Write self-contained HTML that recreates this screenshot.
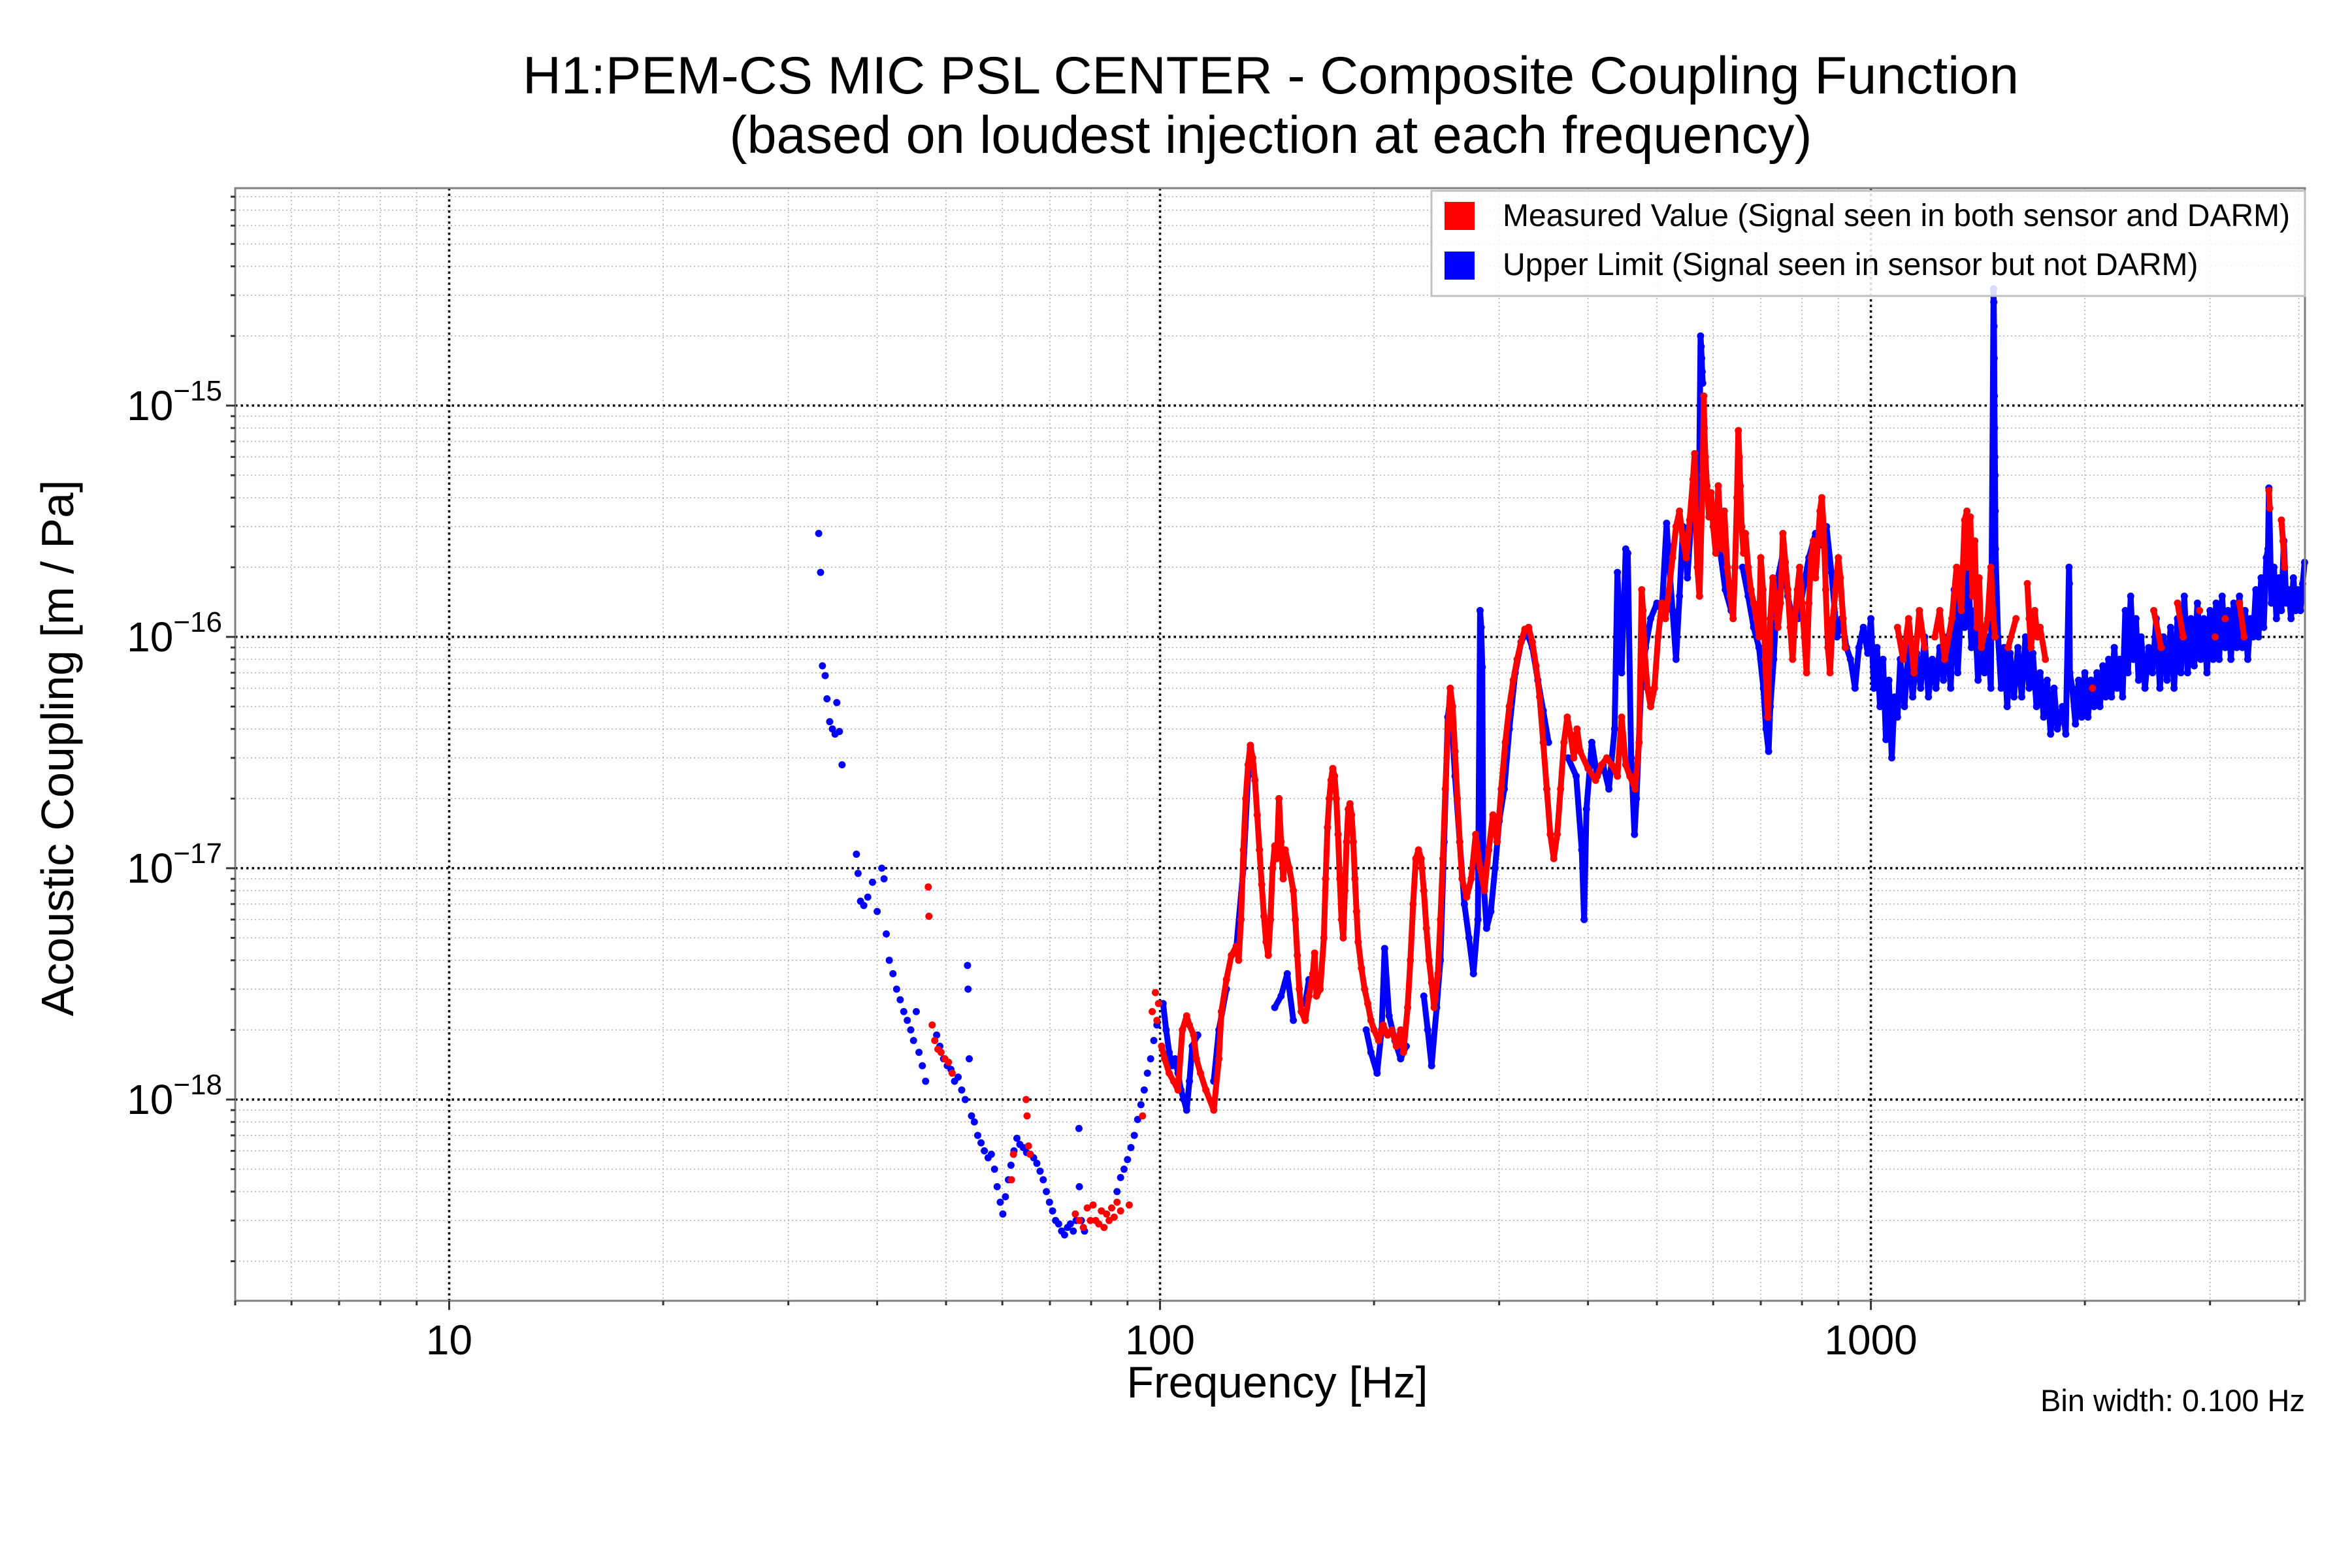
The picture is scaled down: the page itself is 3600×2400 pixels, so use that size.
<!DOCTYPE html>
<html><head><meta charset="utf-8">
<style>
html,body{margin:0;padding:0;background:#fff;}
svg{display:block;font-family:"Liberation Sans",Arial,sans-serif;}
</style></head>
<body>
<svg id="chart" width="3600" height="2400" viewBox="0 0 3600 2400" xmlns="http://www.w3.org/2000/svg">
<rect x="0" y="0" width="3600" height="2400" fill="#fff"/>
<g id="grid"></g>
<g id="marks"></g>
<rect x="360" y="288" width="3168" height="1703" fill="none" stroke="#808080" stroke-width="3"/>
<g id="ticks"></g>
<text x="1945" y="143" font-size="81" text-anchor="middle" textLength="2290" lengthAdjust="spacingAndGlyphs">H1:PEM-CS MIC PSL CENTER - Composite Coupling Function</text>
<text x="1945" y="234" font-size="81" text-anchor="middle">(based on loudest injection at each frequency)</text>
<text x="1955" y="2139" font-size="68" text-anchor="middle">Frequency [Hz]</text>
<text x="0" y="0" font-size="70" text-anchor="middle" transform="translate(112,1145) rotate(-90)">Acoustic Coupling [m / Pa]</text>
<text x="3528" y="2160" font-size="47" text-anchor="end">Bin width: 0.100 Hz</text>
<g>
<rect x="2191" y="292" width="1337" height="161" fill="#fff" fill-opacity="0.85" stroke="#c0c0c0" stroke-width="3"/>
<rect x="2211" y="309" width="46" height="43" fill="#ff0000"/>
<text x="2300" y="346" font-size="48">Measured Value (Signal seen in both sensor and DARM)</text>
<rect x="2211" y="385" width="46" height="43" fill="#0000ff"/>
<text x="2300" y="421" font-size="48">Upper Limit (Signal seen in sensor but not DARM)</text>
</g>
</svg>
<script>
const xTickValues = [10, 100, 1000];
const xTickLabels = ["10", "100", "1000"];
const yTickExponents = [-15, -16, -17, -18];
const yTickLabels = ["\u221215", "\u221216", "\u221217", "\u221218"];

const blueFreq = [33.1,33.3,33.5,33.8,34.0,34.3,34.6,34.9,35.1,35.4,35.7,
37.4,37.6,37.9,38.3,38.8,39.4,40.0,40.6,40.9,41.2,41.6,42.1,42.6,43.1,43.6,44.1,44.6,45.0,45.4,45.8,46.3,46.8,
48.5,49.0,49.6,50.2,50.8,51.4,52.0,52.6,53.2,53.6,53.7,53.9,54.3,54.8,55.4,56.0,56.6,57.3,57.9,58.5,59.0,59.6,60.1,60.6,61.2,61.7,62.3,62.9,63.5,64.2,64.9,65.7,66.4,67.1,67.8,68.5,69.2,69.9,70.6,71.3,72.0,72.7,73.4,74.1,74.8,75.5,76.2,76.9,77.0,77.5,78.3,
87,88,89,90,91,92,93,94,95,96,97,98,99,
101,102,103,104,105,106,107,108,109,110,111,113,
119,121,124,128,131,133,134,
145,148,151,154,160,162,
195,198,202,205,207,210,214,218,222,
235,238,241,245,248,251,254,256,260,264,268,272,276,280,282,283,284,285,288,292,296,300,305,310,316,322,328,334,340,346,352,
375,385,392,395,398,405,412,420,428,436,440,446,452,455,460,465,468,475,482,490,500,508,516,518,520,526,532,538,544,548,552,560,566,572,576,577,578,579,580,
600,612,624,636,660,672,684,696,706,712,718,722,730,740,752,764,776,790,806,818,836,850,866,880,896,910,924,936,950,962,976,990,
1000,1010,1020,1030,1040,1050,1060,1070,1080,1090,1100,1115,1130,1145,1160,1175,1190,1205,1220,1235,1250,1265,1280,1295,1310,1325,1340,1355,1370,1385,1400,1415,1430,1445,1460,1475,
1488,1489,1490,1491,1492,1493,1494,1495,1496,1497,
1510,1525,1540,1555,1570,1590,1610,1630,1650,1670,1690,1710,1730,1750,1770,1790,1810,1830,1860,1880,1900,1902,1905,1920,1940,1960,1980,2000,2020,2040,2060,2080,2100,2120,2140,2160,2180,2200,2220,2240,2260,2280,2300,2320,2340,2360,2380,2400,2430,2460,2490,2520,2550,2580,2610,2640,2670,2700,2730,2760,2790,2820,2850,2880,2910,2940,2970,3000,3030,3060,3090,3120,3150,3180,3210,3240,3270,3300,3330,3360,3390,3420,3450,3480,3510,3540,3570,3600,3620,3630,3660,3690,3720,3750,3780,3810,3840,3870,3900,3930,3960,3990,4020,4050,4075];
const blueVal = [2.8e-16,1.9e-16,7.5e-17,6.8e-17,5.4e-17,4.3e-17,4.0e-17,3.8e-17,5.2e-17,3.9e-17,2.8e-17,
1.15e-17,9.5e-18,7.2e-18,6.9e-18,7.5e-18,8.7e-18,6.5e-18,1.0e-17,9.0e-18,5.2e-18,4.0e-18,3.5e-18,3.0e-18,2.7e-18,2.4e-18,2.2e-18,2.0e-18,1.8e-18,2.4e-18,1.6e-18,1.4e-18,1.2e-18,
1.9e-18,1.7e-18,1.5e-18,1.4e-18,1.35e-18,1.2e-18,1.25e-18,1.1e-18,1.0e-18,3.8e-18,3.0e-18,1.5e-18,8.5e-19,8.0e-19,7.0e-19,6.5e-19,6.0e-19,5.6e-19,5.8e-19,5.0e-19,4.2e-19,3.6e-19,3.2e-19,3.8e-19,4.5e-19,5.2e-19,6.0e-19,6.8e-19,6.4e-19,6.2e-19,5.9e-19,5.8e-19,5.6e-19,5.3e-19,4.9e-19,4.5e-19,4.0e-19,3.6e-19,3.3e-19,3.0e-19,2.9e-19,2.7e-19,2.6e-19,2.8e-19,2.9e-19,2.7e-19,3.0e-19,7.5e-19,4.2e-19,3.0e-19,2.7e-19,
4.0e-19,4.6e-19,5.0e-19,5.5e-19,6.2e-19,7.0e-19,8.2e-19,9.5e-19,1.1e-18,1.3e-18,1.5e-18,1.8e-18,2.1e-18,
2.6e-18,2.0e-18,1.6e-18,1.4e-18,1.5e-18,1.3e-18,1.1e-18,1.0e-18,9e-19,1.2e-18,1.7e-18,1.9e-18,
1.2e-18,2.0e-18,3.0e-18,4.5e-18,1.0e-17,2.5e-17,3.3e-17,
2.5e-18,2.8e-18,3.5e-18,2.2e-18,2.6e-18,3.3e-18,
2.0e-18,1.6e-18,1.3e-18,2.0e-18,4.5e-18,2.3e-18,1.8e-18,1.5e-18,1.7e-18,
2.8e-18,2.0e-18,1.4e-18,2.5e-18,4e-18,1.3e-17,4.5e-17,5.5e-17,2.5e-17,1.3e-17,7e-18,5e-18,3.5e-18,6e-18,1.3e-16,1.1e-16,7.4e-17,9e-18,5.5e-18,6.5e-18,1e-17,1.6e-17,2.2e-17,4e-17,7e-17,9.5e-17,1.05e-16,9e-17,6.5e-17,4.8e-17,3.5e-17,
3e-17,2.5e-17,1.2e-17,6e-18,1.8e-17,3.5e-17,2.5e-17,2.8e-17,2.2e-17,4e-17,1.9e-16,7e-17,2.4e-16,2.3e-16,3e-17,1.4e-17,2e-17,6e-17,9e-17,1.2e-16,1.4e-16,1.3e-16,3.1e-16,2.5e-16,2.1e-16,1.3e-16,8e-17,1.5e-16,3e-16,2.5e-16,1.8e-16,3.6e-16,3.2e-16,2.5e-16,2.0e-15,1.8e-15,1.6e-15,1.4e-15,1.25e-15,
3.3e-16,2.5e-16,1.6e-16,1.3e-16,2.0e-16,1.5e-16,1.1e-16,9e-17,6e-17,4e-17,3.2e-17,5e-17,8e-17,1.8e-16,2.3e-16,1.5e-16,1.2e-16,1.2e-16,1.7e-16,2.2e-16,2.8e-16,2.5e-16,3e-16,1.9e-16,1.0e-16,1.2e-16,9e-17,8e-17,6e-17,9e-17,1.1e-16,8.5e-17,
1.2e-16,6e-17,9e-17,5e-17,8e-17,3.6e-17,6.5e-17,3e-17,5.5e-17,4.5e-17,8e-17,5e-17,9e-17,5.5e-17,8.5e-17,6e-17,1.0e-16,5.5e-17,8e-17,6e-17,9e-17,6.5e-17,1.0e-16,6e-17,1.6e-16,7e-17,1.4e-16,1.1e-16,2.0e-16,9e-17,1.3e-16,6.5e-17,1.1e-16,7e-17,1.0e-16,6e-17,
3.2e-15,2.8e-15,2.2e-15,1.6e-15,1.1e-15,8e-16,6e-16,5e-16,3.5e-16,2.4e-16,
1.0e-16,6e-17,9e-17,5e-17,8.5e-17,5.5e-17,9e-17,5.5e-17,1.0e-16,6e-17,8.5e-17,5e-17,7e-17,4.5e-17,6.5e-17,3.8e-17,6e-17,4e-17,5e-17,3.8e-17,2.0e-16,1.7e-16,7e-17,6e-17,4.2e-17,6.5e-17,4.5e-17,7e-17,4.5e-17,6.5e-17,5e-17,7e-17,5e-17,7.5e-17,5.5e-17,8e-17,5.5e-17,9e-17,6e-17,8e-17,5.5e-17,1.3e-16,7e-17,1.5e-16,8e-17,1.2e-16,6.5e-17,1.0e-16,6e-17,9e-17,7e-17,1.2e-16,6e-17,1.0e-16,6.5e-17,1.1e-16,6e-17,1.2e-16,7e-17,1.5e-16,7e-17,1.2e-16,7.5e-17,1.4e-16,8e-17,1.2e-16,7e-17,1.3e-16,8e-17,1.4e-16,8e-17,1.5e-16,9e-17,1.3e-16,8e-17,1.4e-16,9e-17,1.5e-16,9e-17,1.3e-16,8e-17,1.2e-16,1.0e-16,1.6e-16,1.0e-16,1.8e-16,1.1e-16,2.2e-16,2.4e-16,4.4e-16,1.4e-16,2.0e-16,1.2e-16,1.8e-16,1.3e-16,2.6e-16,1.4e-16,1.6e-16,1.2e-16,1.8e-16,1.3e-16,1.6e-16,1.3e-16,1.7e-16,2.1e-16];

const redFreq = [47.2,47.3,47.8,48.2,48.7,49.2,49.8,50.4,51.0,
61.8,62.2,64.8,65.0,65.3,65.6,
76,77,78,79,79.8,80.5,81.2,82,82.7,83.4,84.1,84.8,85.5,86.2,87,88,90.5,94.5,
97.5,98.5,99,99.5,100.5,101.5,103,104.5,106,107.5,109,110,111.5,112.5,114,116,119,121,122,124,126,128,129,130,131,132,133,134,135,136,137,138,139,140,141,142,143,144,145,146,147,148,149,150,152,154,155,156,157,158,160,162,164,165,166,168,170,171,172,173,174,175,176,177,178,179,180,181,182,183,184,185,186,187,188,189,190,192,194,196,198,200,203,206,209,212,215,218,220,223,225,227,229,231,233,235,237,239,241,243,246,248,250,252,254,256,258,260,262,264,266,270,274,278,282,286,290,294,298,302,306,310,314,318,322,326,330,334,338,342,346,350,354,358,362,366,370,374,378,382,386,390,400,410,418,425,432,440,446,452,458,466,472,476,478,480,485,490,496,502,508,514,520,526,532,538,544,550,556,562,565,567,570,574,580,582,583,585,588,592,596,600,605,610,614,618,622,628,634,640,644,648,651,653,655,658,662,666,672,678,684,690,696,700,705,710,716,722,728,734,740,746,752,758,764,770,776,782,788,794,800,806,812,818,824,830,836,842,848,853,858,864,870,876,884,892,900,906,914,920,
1090,1110,1130,1150,1170,1190,1230,1250,1270,1300,1320,1340,1355,1365,1372,1380,1390,1400,1410,1420,1430,1460,1475,1485,1495,1560,1600,1660,1670,1680,1700,1715,1730,1760,2050,2500,2560,2700,2750,2900,3050,3150,3300,3350,3630,3640,3780,3800,3820];
const redVal = [8.3e-18,6.2e-18,2.1e-18,1.8e-18,1.65e-18,1.6e-18,1.5e-18,1.45e-18,1.3e-18,
4.5e-19,5.8e-19,1.0e-18,8.5e-19,6.3e-19,5.8e-19,
3.2e-19,3.0e-19,2.8e-19,3.4e-19,3.0e-19,3.5e-19,3.0e-19,2.9e-19,3.3e-19,2.8e-19,3.2e-19,3.0e-19,3.4e-19,3.1e-19,3.6e-19,3.3e-19,3.5e-19,8.5e-19,
2.4e-18,2.9e-18,2.2e-18,2.6e-18,1.7e-18,1.5e-18,1.3e-18,1.2e-18,1.1e-18,2.0e-18,2.3e-18,2.1e-18,1.9e-18,1.5e-18,1.3e-18,1.1e-18,9e-19,1.5e-18,2.4e-18,3.3e-18,4.2e-18,4.6e-18,4.0e-18,6e-18,1.2e-17,2.0e-17,2.8e-17,3.4e-17,3.0e-17,2.4e-17,1.7e-17,1.2e-17,8.5e-18,6.2e-18,4.8e-18,4.2e-18,6e-18,1.0e-17,1.25e-17,1.1e-17,2.0e-17,1.3e-17,9e-18,1.2e-17,1.0e-17,8e-18,6e-18,4.2e-18,3.0e-18,2.4e-18,2.2e-18,2.8e-18,3.5e-18,4.3e-18,2.8e-18,3e-18,5e-18,9e-18,1.5e-17,2.0e-17,2.4e-17,2.7e-17,2.5e-17,2.0e-17,1.4e-17,9e-18,6e-18,5e-18,8e-18,1.3e-17,1.8e-17,1.9e-17,1.7e-17,1.3e-17,9e-18,6.5e-18,4.8e-18,3.7e-18,3.0e-18,2.6e-18,2.2e-18,2.0e-18,1.8e-18,2.1e-18,1.9e-18,2.0e-18,1.7e-18,2.0e-18,1.6e-18,2.5e-18,4e-18,7e-18,1.1e-17,1.2e-17,1.1e-17,8e-18,5.5e-18,4e-18,3.2e-18,2.5e-18,3.5e-18,6e-18,1.1e-17,2.2e-17,4e-17,6e-17,5e-17,3.2e-17,2e-17,1.3e-17,9e-18,7.5e-18,9e-18,1.4e-17,1e-17,8e-18,1.2e-17,1.7e-17,1.3e-17,2.2e-17,3.5e-17,5e-17,6.5e-17,8e-17,9.5e-17,1.08e-16,1.1e-16,9.5e-17,7.5e-17,5.5e-17,3.5e-17,2.2e-17,1.4e-17,1.1e-17,1.4e-17,2.2e-17,3.5e-17,4.5e-17,3.8e-17,3e-17,4e-17,3.2e-17,2.7e-17,2.4e-17,2.8e-17,3e-17,2.8e-17,2.5e-17,4.5e-17,2.8e-17,2.5e-17,2.2e-17,3.5e-17,1.6e-16,1.3e-16,9e-17,6e-17,5e-17,6e-17,1.0e-16,1.4e-16,1.2e-16,1.6e-16,2.2e-16,3e-16,3.5e-16,2.6e-16,2.2e-16,3.2e-16,4.8e-16,6.2e-16,3.4e-16,2e-16,1.5e-16,5e-16,1.1e-15,8e-16,6e-16,4.5e-16,3.3e-16,4.2e-16,3.0e-16,2.3e-16,4.5e-16,3e-16,2.4e-16,3.5e-16,2e-16,1.5e-16,1.2e-16,2e-16,4e-16,7.8e-16,6e-16,4.5e-16,3e-16,2.3e-16,2.8e-16,2.0e-16,1.6e-16,1.4e-16,1.2e-16,1.0e-16,2.2e-16,1.6e-16,8e-17,4.5e-17,1.2e-16,1.8e-16,1.5e-16,1.1e-16,1.4e-16,2.8e-16,2.1e-16,1.6e-16,1.1e-16,8e-17,1.2e-16,1.6e-16,2.0e-16,1.4e-16,1.0e-16,7e-17,1.4e-16,2.2e-16,2.6e-16,1.8e-16,2.5e-16,3.5e-16,4e-16,3e-16,1.6e-16,9e-17,7e-17,1.2e-16,1.6e-16,2.2e-16,1.8e-16,1.2e-16,9e-17,
1.1e-16,8e-17,1.2e-16,7e-17,1.3e-16,9e-17,1.0e-16,1.3e-16,8e-17,1.2e-16,2e-16,1.3e-16,3.2e-16,3.5e-16,2e-16,3.3e-16,1.5e-16,2.6e-16,1.1e-16,1.8e-16,9e-17,1.2e-16,2.0e-16,1.3e-16,1.0e-16,9e-17,1.2e-16,1.7e-16,1.2e-16,9e-17,1.3e-16,1.0e-16,1.1e-16,8e-17,6e-17,1.3e-16,9e-17,1.4e-16,1.0e-16,1.3e-16,1.0e-16,1.2e-16,1.4e-16,1.0e-16,4.3e-16,3.6e-16,3.2e-16,2.6e-16,2.0e-16];

const X0 = 360, X1 = 3528, Y0 = 288, Y1 = 1991;
const LX0 = Math.log10(5), LX1 = Math.log10(4080);
const LY0 = -14.06, LY1 = -18.87;
function xs(f){ return X0 + (Math.log10(f) - LX0) / (LX1 - LX0) * (X1 - X0); }
function ys(v){ return Y0 + (LY0 - Math.log10(v)) / (LY0 - LY1) * (Y1 - Y0); }
const NS = "http://www.w3.org/2000/svg";
function mk(tag, attrs, parent){ const e = document.createElementNS(NS, tag); for (const k in attrs) e.setAttribute(k, attrs[k]); parent.appendChild(e); return e; }

const grid = document.getElementById('grid');
const ticks = document.getElementById('ticks');
for (let d = 0; d <= 3; d++) {
  for (let m = 1; m <= 9; m++) {
    const f = m * Math.pow(10, d);
    if (f < 5 || f > 4080) continue;
    const x = xs(f);
    const major = (m === 1);
    const gl = mk('line', {x1:x, y1:Y0, x2:x, y2:Y1, stroke: major ? '#000' : '#b0b0b0', 'stroke-width': major ? 3.5 : 1.5, 'stroke-dasharray': major ? '3.5 5' : '2 4'}, grid);
    
    
    const tk = mk('line', {x1:x, y1:Y1, x2:x, y2:Y1 + (major ? 14 : 7), stroke:'#333', 'stroke-width': 3}, ticks);
    
    
  }
}
for (let e = -19; e <= -15; e++) {
  for (let m = 1; m <= 9; m++) {
    const v = m * Math.pow(10, e);
    const y = ys(v);
    if (y < Y0 || y > Y1) continue;
    const major = (m === 1);
    const gl = mk('line', {x1:X0, y1:y, x2:X1, y2:y, stroke: major ? '#000' : '#b0b0b0', 'stroke-width': major ? 3.5 : 1.5, 'stroke-dasharray': major ? '3.5 5' : '2 4'}, grid);
    
    
    const tk = mk('line', {x1:X0 - (major ? 14 : 7), y1:y, x2:X0, y2:y, stroke:'#333', 'stroke-width': 3}, ticks);
    
    
  }
}
xTickValues.forEach((f, i) => {
  const t = mk('text', {x: xs(f), y: 2073, 'font-size': 64, 'text-anchor': 'middle'}, ticks);
  t.textContent = xTickLabels[i];
  
  
});
yTickExponents.forEach((e, i) => {
  const y = ys(Math.pow(10, e));
  const t = mk('text', {x: 340, y: y + 22, 'font-size': 64, 'text-anchor': 'end'}, ticks);
  const b = mk('tspan', {}, t); b.textContent = '10';
  const s = mk('tspan', {dy: -30, 'font-size': 44}, t); s.textContent = yTickLabels[i];
  
  
});

const marks = document.getElementById('marks');
function drawSeries(freqs, vals, color, name){
  const g = mk('g', {}, marks);
  
  
  for (let i = 1; i < freqs.length; i++) {
    if (freqs[i-1] >= 100 && freqs[i] / freqs[i-1] < 1.03) {
      const l = mk('line', {x1: xs(freqs[i-1]), y1: ys(vals[i-1]), x2: xs(freqs[i]), y2: ys(vals[i]), stroke: color, 'stroke-width': 9, 'stroke-linecap': 'round'}, g);
      
      
    }
  }
  for (let i = 0; i < freqs.length; i++) {
    const c = mk('circle', {cx: xs(freqs[i]), cy: ys(vals[i]), r: 5.5, fill: color}, g);
    
    
  }
}
drawSeries(blueFreq, blueVal, '#0000ff', 'upper-limit-series');
drawSeries(redFreq, redVal, '#ff0000', 'measured-series');
</script>
</body></html>
